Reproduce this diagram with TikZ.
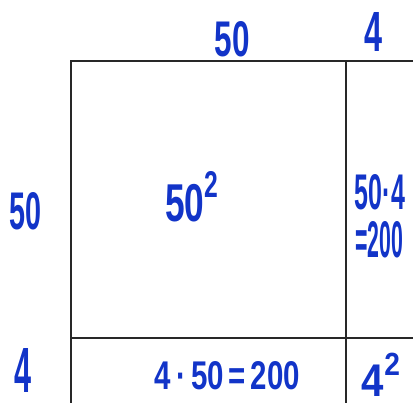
\documentclass[tikz,border=0pt]{standalone}
\usepackage{fontspec}
\setmainfont{Liberation Sans}
\usepackage{graphicx}
\definecolor{ink}{RGB}{18,52,200}
\definecolor{gridline}{RGB}{40,40,40}
\begin{document}
\begin{tikzpicture}[x=1pt,y=1pt,
  grid/.style={draw=gridline,line width=2.2pt},
  hand/.style={text=ink,inner sep=0pt,outer sep=0pt,anchor=center,font=\bfseries}]
\useasboundingbox (0,0) rectangle (413,-403);
% grid corners
\coordinate (tl) at (70.7,-61);
\coordinate (tr) at (413,-61);
\coordinate (bl) at (70.7,-403);
\coordinate (mt) at (346,-61);
\coordinate (mb) at (346,-403);
\coordinate (hl) at (70.7,-337.7);
\coordinate (hr) at (413,-337.7);
\draw[grid] (tr) -- (tl) -- (bl);
\draw[grid] (mt) -- (mb);
\draw[grid] (hl) -- (hr);
% labels
\node[hand] (top50) at (232.5,-39.5) {\resizebox{35pt}{35pt}{50}};
\node[hand] (top4) at (374,-32.5) {\resizebox{18pt}{39pt}{4}};
\node[hand] (left50) at (26,-211.5) {\resizebox{32pt}{37pt}{50}};
\node[hand] (left4) at (23.5,-370) {\resizebox{17pt}{44pt}{4}};
\node[hand] (sq) at (191.5,-197) {\resizebox{53pt}{50pt}{50\raisebox{0.45em}{\scriptsize 2}}};
\node[hand] (rt1) at (380,-192.5) {\resizebox{50pt}{35pt}{50·4}};
\node[hand] (rt2) at (379,-240) {\resizebox{48pt}{36pt}{=200}};
\node[hand] (bot) at (227.5,-376) {\resizebox{145pt}{28pt}{4\,·\,50\,=\,200}};
\node[hand] (corner) at (381,-374.5) {\resizebox{38pt}{43pt}{4\raisebox{0.45em}{\scriptsize 2}}};
\end{tikzpicture}
\end{document}
